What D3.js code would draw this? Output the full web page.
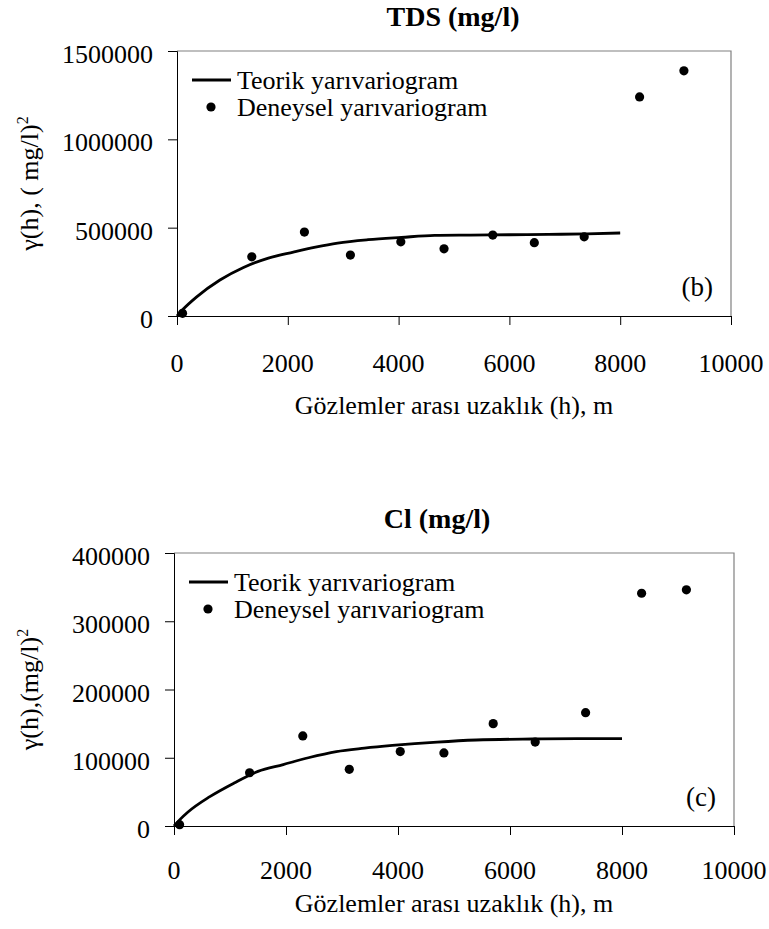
<!DOCTYPE html>
<html>
<head>
<meta charset="utf-8">
<script src="https://cdn.jsdelivr.net/npm/d3@7"></script>
<style>
  body { margin: 0; background: #fff; }
</style>
</head>
<body>
<div id="wrapper"></div>
<script>
// DATA
const lagDistances = [100, 1350, 2300, 3130, 4040, 4820, 5700, 6450, 7350, 8350, 9150];
const tdsExperimental = [15000, 335000, 475000, 345000, 420000, 380000, 458000, 415000, 448000, 1240000, 1388000];
const clExperimental = [2000, 78000, 132000, 83000, 109000, 107000, 150000, 123000, 166000, 341000, 346000];

// theoretical curve
const tdsModelH = [0, 100, 350, 775, 1200, 1650, 2100, 2500, 2900, 3450, 4050, 4650, 5300, 6000, 6700, 7400, 8000];
const tdsModelV = [0, 35000, 107000, 204000, 275000, 328000, 362000, 390000, 413000, 432000, 445000, 456000, 458000, 460000, 462000, 465000, 470000];
const clModelH = [0, 100, 250, 640, 1075, 1500, 1950, 2400, 2900, 3400, 3900, 4700, 5400, 6400, 7200, 8000];
const clModelV = [0, 9000, 20500, 43000, 63000, 80000, 90000, 100000, 109000, 114000, 118000, 123000, 126000, 127500, 128000, 128000];

const xTicks = [0, 2000, 4000, 6000, 8000, 10000];
const tdsYTicks = [0, 500000, 1000000, 1500000];
const clYTicks = [0, 100000, 200000, 300000, 400000];

const legendLabels = ["Teorik yarıvariogram", "Deneysel yarıvariogram"];

const width = 769, height = 929;
const serif = "'Liberation Serif', 'Times New Roman', Times, 'DejaVu Serif', serif";

const svg = d3.select("#wrapper")
  .append("svg")
  .attr("width", width)
  .attr("height", height)
  .attr("font-family", serif);

svg.append("rect").attr("width", width).attr("height", height).attr("fill", "#fff");

function drawPanel(p) {
  const xScale = d3.scaleLinear().domain([0, 10000]).range([p.left, p.right]);
  const yScale = d3.scaleLinear().domain([0, p.yMax]).range([p.bottom, p.top]);

  const g = svg.append("g").attr("font-family", serif);

  // plot frame: grey top/right border
  g.append("path")
    .attr("d", `M${p.left},${p.top}H${p.right}V${p.bottom}`)
    .attr("fill", "none")
    .attr("stroke", "#808080")
    .attr("stroke-width", 1.2);

  // axes
  const xAxis = d3.axisBottom(xScale).tickValues(xTicks).tickSize(9).tickFormat("");
  g.append("g")
    .attr("transform", `translate(0,${p.bottom})`)
    .call(xAxis)
    .call(a => a.select(".domain").attr("stroke", "#000"))
    .call(a => a.selectAll(".tick line").attr("stroke", "#000"));

  const yAxis = d3.axisLeft(yScale).tickValues(p.yTicks).tickSize(9).tickFormat("");
  g.append("g")
    .attr("transform", `translate(${p.left},0)`)
    .call(yAxis)
    .call(a => a.select(".domain").attr("stroke", "#000"))
    .call(a => a.selectAll(".tick line").attr("stroke", "#000"));

  // tick labels
  g.selectAll(".xlab")
    .data(xTicks)
    .enter().append("text")
    .attr("x", d => xScale(d))
    .attr("y", p.bottom + p.xLabelOffset)
    .attr("text-anchor", "middle")
    .style("font-family", serif)
    .attr("font-size", 26)
    .text(d => d);

  g.selectAll(".ylab")
    .data(p.yTicks)
    .enter().append("text")
    .attr("x", p.left - 24)
    .attr("y", d => yScale(d) + 12)
    .attr("text-anchor", "end")
    .style("font-family", serif)
    .attr("font-size", 26)
    .text(d => d);

  // titles
  g.append("text")
    .attr("x", p.titleX)
    .attr("y", p.top - 25)
    .attr("text-anchor", "middle")
    .style("font-family", serif)
    .attr("font-size", 28)
    .attr("font-weight", "bold")
    .text(p.title);

  g.append("text")
    .attr("x", (p.left + p.right) / 2)
    .attr("y", p.xTitleY)
    .attr("text-anchor", "middle")
    .style("font-family", serif)
    .attr("font-size", 26)
    .text("Gözlemler arası uzaklık (h), m");

  const yt = g.append("text")
    .attr("transform", `translate(38,${(p.top + p.bottom) / 2}) rotate(-90)`)
    .attr("text-anchor", "middle")
    .style("font-family", serif)
    .attr("font-size", 26);
  yt.append("tspan").text(p.yTitle);
  yt.append("tspan").attr("dy", -10).attr("font-size", 16).text("2");

  // panel tag
  g.append("text")
    .attr("x", p.right - 18)
    .attr("y", p.bottom - 20)
    .attr("text-anchor", "end")
    .style("font-family", serif)
    .attr("font-size", 27)
    .text(p.tag);

  // theoretical model line
  const modelPoints = p.modelH.map((h, i) => [h, p.modelV[i]]);
  const line = d3.line()
    .x(d => xScale(d[0]))
    .y(d => yScale(d[1]))
    .curve(d3.curveMonotoneX);
  g.append("path")
    .datum(modelPoints)
    .attr("d", line)
    .attr("fill", "none")
    .attr("stroke", "#000")
    .attr("stroke-width", 2.8);

  // experimental points
  g.selectAll(".pt")
    .data(lagDistances.map((h, i) => [h, p.experimental[i]]))
    .enter().append("circle")
    .attr("cx", d => xScale(d[0]))
    .attr("cy", d => yScale(d[1]))
    .attr("r", 4.6)
    .attr("fill", "#000");

  // legend
  const lg = g.append("g");
  lg.append("line")
    .attr("x1", p.left + 15).attr("x2", p.left + 54)
    .attr("y1", p.top + 29).attr("y2", p.top + 29)
    .attr("stroke", "#000").attr("stroke-width", 2.8);
  lg.append("circle")
    .attr("cx", p.left + 34).attr("cy", p.top + 56)
    .attr("r", 4.6).attr("fill", "#000");
  lg.selectAll(".legtext")
    .data(legendLabels)
    .enter().append("text")
    .attr("x", p.left + 60)
    .attr("y", (d, i) => p.top + 38 + i * 27)
    .style("font-family", serif)
    .attr("font-size", 26)
    .text(d => d);
}

drawPanel({
  left: 177, right: 731, top: 51, bottom: 316,
  yMax: 1500000, yTicks: tdsYTicks,
  experimental: tdsExperimental, modelH: tdsModelH, modelV: tdsModelV,
  title: "TDS (mg/l)", titleX: 453,
  yTitle: "γ(h), ( mg/l)",
  tag: "(b)",
  xLabelOffset: 56, xTitleY: 414
});

drawPanel({
  left: 174, right: 734, top: 553, bottom: 826,
  yMax: 400000, yTicks: clYTicks,
  experimental: clExperimental, modelH: clModelH, modelV: clModelV,
  title: "Cl (mg/l)", titleX: 437,
  yTitle: "γ(h),(mg/l)",
  tag: "(c)",
  xLabelOffset: 53, xTitleY: 912
});
</script>
</body>
</html>
